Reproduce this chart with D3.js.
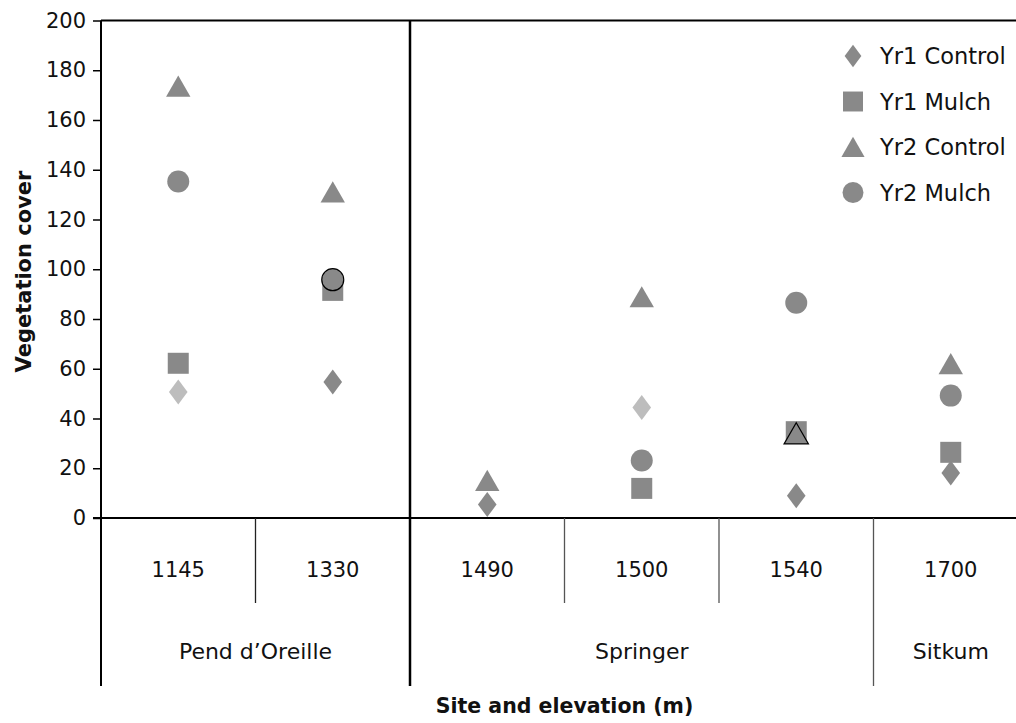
<!DOCTYPE html>
<html>
<head>
<meta charset="utf-8">
<script src="https://cdn.jsdelivr.net/npm/d3@7"></script>
<style>
  body { margin: 0; background: #fff; }
  text { font-family: "DejaVu Sans", sans-serif; fill: #111; }
</style>
</head>
<body>
<div id="chart"></div>
<script>
// data
var elevations = ["1145", "1330", "1490", "1500", "1540", "1700"];
var siteOfElevation = ["Pend d\u2019Oreille", "Pend d\u2019Oreille", "Springer", "Springer", "Springer", "Sitkum"];
var seriesNames = ["Yr1 Control", "Yr1 Mulch", "Yr2 Control", "Yr2 Mulch"];
var yr1Control = [50.7, 54.7, 5.4, 44.4, 8.9, 18.1];
var yr1Mulch = [62.2, 91.5, null, 11.9, 34.7, 26.4];
var yr2Control = [173.6, 131.1, 15.1, 88.9, 34, 62];
var yr2Mulch = [135.3, 95.8, null, 23.1, 86.5, 49.2];
var yTicks = [0, 20, 40, 60, 80, 100, 120, 140, 160, 180, 200];

// points drawn in light grey / with a black outline in the original
var lightPoints = ["Yr1 Control|1145", "Yr1 Control|1500"];
var outlinedPoints = ["Yr2 Mulch|1330", "Yr2 Control|1540"];

var svgWidth = 1016;
var svgHeight = 723;
var margin = { top: 20.5, left: 101 };
var plotBottom = 518;
var elevRowBottom = 603;
var siteRowBottom = 686;

var svg = d3.select("#chart")
  .append("svg")
  .attr("width", svgWidth)
  .attr("height", svgHeight);

var x = d3.scaleBand()
  .domain(elevations)
  .range([margin.left, margin.left + 6 * 154.5]);

var y = d3.scaleLinear()
  .domain([0, 200])
  .range([plotBottom, margin.top]);

// marker shapes
function markerPath(shape) {
  var p = d3.path();
  if (shape == "diamond") {
    p.moveTo(0, -12.5); p.lineTo(9.3, 0); p.lineTo(0, 12.5); p.lineTo(-9.3, 0); p.closePath();
  } else if (shape == "square") {
    p.rect(-10.5, -10.5, 21, 21);
  } else if (shape == "triangle") {
    p.moveTo(0, -10.7); p.lineTo(12.2, 10.5); p.lineTo(-12.2, 10.5); p.closePath();
  } else {
    p.arc(0, 0, 11, 0, 2 * Math.PI);
  }
  return p.toString();
}
var shapes = ["diamond", "square", "triangle", "circle"];
var seriesValues = [yr1Control, yr1Mulch, yr2Control, yr2Mulch];

var points = [];
seriesNames.forEach(function(s, i) {
  elevations.forEach(function(e, j) {
    var v = seriesValues[i][j];
    if (v == null) return;
    points.push({ series: s, shape: shapes[i], elev: e, value: v });
  });
});

// top border of the plot box
svg.append("line")
  .attr("x1", margin.left).attr("x2", svgWidth)
  .attr("y1", margin.top).attr("y2", margin.top)
  .attr("stroke", "#000").attr("stroke-width", 2);

// left axis
var leftAxis = d3.axisLeft(y).tickValues(yTicks).tickSize(8).tickPadding(7);
var gy = svg.append("g")
  .attr("transform", "translate(" + margin.left + ",0)")
  .call(leftAxis);
gy.select(".domain").attr("stroke-width", 2).attr("d", "M0," + margin.top + "V" + siteRowBottom);
gy.selectAll(".tick line").attr("stroke-width", 1.5);
gy.selectAll(".tick text")
  .style("font-size", "21px")
  .style("font-family", "DejaVu Sans")
  .attr("fill", "#111");

// bottom axis line
svg.append("line")
  .attr("x1", margin.left - 8).attr("x2", svgWidth)
  .attr("y1", plotBottom).attr("y2", plotBottom)
  .attr("stroke", "#000").attr("stroke-width", 2.2);

// separators below the axis
elevations.forEach(function(e, j) {
  if (j == 0) return;
  var groupEdge = siteOfElevation[j] != siteOfElevation[j - 1];
  var xx = x(e);
  if (groupEdge && siteOfElevation[j] == "Springer") {
    // heavy divider runs through the plot too
    svg.append("line")
      .attr("x1", xx).attr("x2", xx)
      .attr("y1", margin.top).attr("y2", siteRowBottom)
      .attr("stroke", "#000").attr("stroke-width", 2.5);
  } else {
    svg.append("line")
      .attr("x1", xx).attr("x2", xx)
      .attr("y1", plotBottom).attr("y2", groupEdge ? siteRowBottom : elevRowBottom)
      .attr("stroke", j == 1 ? "#222" : "#555").attr("stroke-width", 1.3);
  }
});

// elevation labels
svg.selectAll(".elev")
  .data(elevations)
  .enter()
  .append("text")
  .attr("x", d => x(d) + x.bandwidth() / 2)
  .attr("y", 577)
  .style("text-anchor", "middle")
  .style("font-size", "21px")
  .text(d => d);

// site labels, centred over their elevations
var sites = Array.from(new Set(siteOfElevation));
sites.forEach(function(s) {
  var members = elevations.filter((e, j) => siteOfElevation[j] == s);
  var x0 = x(members[0]);
  var x1 = x(members[members.length - 1]) + x.bandwidth();
  svg.append("text")
    .attr("x", (x0 + x1) / 2)
    .attr("y", 659)
    .style("text-anchor", "middle")
    .style("font-size", "22px")
    .text(s);
});

// axis titles
svg.append("text")
  .attr("x", (margin.left + x.range()[1]) / 2)
  .attr("y", 713)
  .style("text-anchor", "middle")
  .style("font-size", "20.5px")
  .style("font-weight", "bold")
  .text("Site and elevation (m)");

svg.append("text")
  .attr("transform", "translate(31,271.5) rotate(-90)")
  .style("text-anchor", "middle")
  .style("font-size", "21px")
  .style("font-weight", "bold")
  .text("Vegetation cover");

// points
svg.selectAll(".pt")
  .data(points)
  .enter()
  .append("path")
  .attr("class", "pt")
  .attr("d", d => markerPath(d.shape))
  .attr("transform", d => "translate(" + (x(d.elev) + x.bandwidth() / 2) + "," + y(d.value) + ")")
  .attr("fill", d => lightPoints.includes(d.series + "|" + d.elev) ? "#bdbdbd" : "#898989")
  .attr("stroke", d => outlinedPoints.includes(d.series + "|" + d.elev) ? "#000" : "none")
  .attr("stroke-width", 1.2);

// legend
var legend = svg.selectAll(".legend")
  .data(seriesNames)
  .enter()
  .append("g")
  .attr("transform", (d, i) => "translate(853," + (56 + i * 45.5) + ")");

legend.append("path")
  .attr("d", (d, i) => markerPath(shapes[i]))
  .attr("transform", (d, i) => i == 0 ? "scale(0.9)" : "scale(0.95)")
  .attr("fill", "#898989");

legend.append("text")
  .attr("x", 27)
  .attr("y", 8)
  .style("font-size", "22.5px")
  .text(d => d);
</script>
</body>
</html>
